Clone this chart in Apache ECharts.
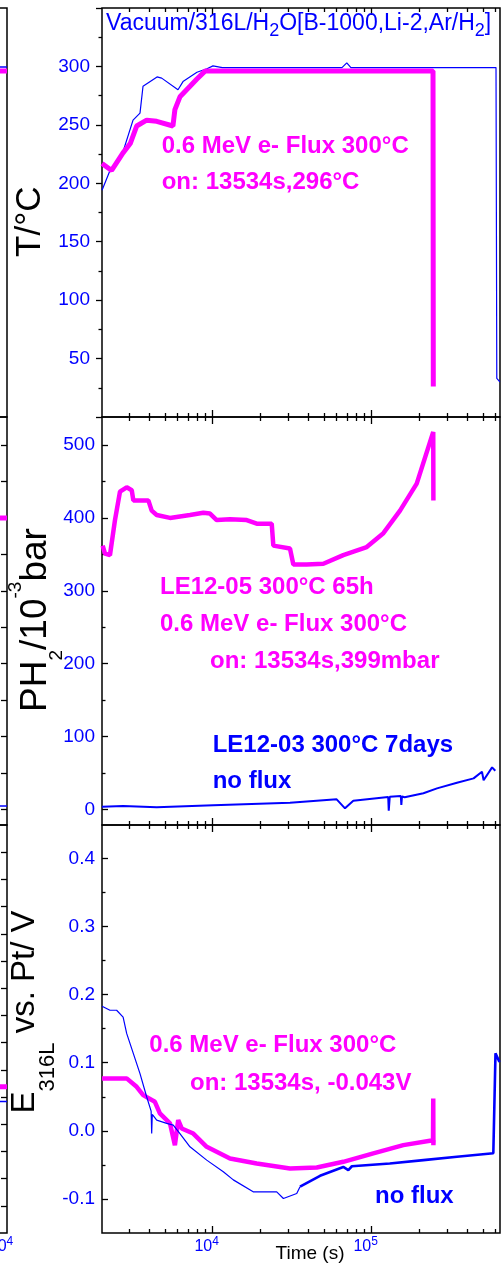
<!DOCTYPE html>
<html><head><meta charset="utf-8">
<script src="https://cdn.jsdelivr.net/npm/echarts@6.0.0/dist/echarts.min.js"></script>
<style>html,body{margin:0;padding:0;background:#fff}#c{width:501px;height:1264px}</style>
</head><body><div id="c"></div>
<script>
// ---------------- data (time in s) ----------------
const tempTimeBlue = [2014,2260,2729,3155,3490,3646,4467,4777,6050,6506,7960,9200,10040,11500,65000,69700,74000,605000,612000,640000];
const tempBlue     = [194,211,227,254,260,283,291,290,280,287,295,298,300.5,299,299,303,299,299,33,30];
const tempTimePink = [2014,2313,2729,3030,3325,3844,4445,5623,5785,6223,7200,7930,8946,243000,244000];
const tempPink     = [217,211,226,234,249,254,253,249,263,274,283,289,296,296,26];

const presTimePink = [2033,2102,2259,2429,2612,2877,3096,3169,3939,4134,4445,5387,7195,8728,9616,10596,12850,16366,18920,23510,24060,30620,32150,39000,49640,66270,93030,118400,150700,191900,243800,244300];
const presPink     = [362,351,349,397,436,442,438,424,424,410,404,400,404,407,406,397,398,397,392,392,362,358,336,336,337,349,360,379,410,447,518,424];
const presTimeBlue = [2014,2733,4445,10087,30620,60210,67940,76600,127000,128000,129900,152500,153600,155000,161200,211500,257400,343700,437300,493700,505600,571600,598700];
const presBlue     = [3.6,4.5,2.7,5.5,9,13.7,1.4,11.8,16.8,-2,17.3,18.2,5.9,17.5,16.5,22,28.8,36.5,42.5,51.6,40,57.6,53];

const potTimePink = [2014,2877,3325,3655,4329,4654,5387,5785,6070,6384,7550,9169,12850,18920,30620,45130,66270,102350,158000,243000,243800,244300,245000];
const potPink     = [0.077,0.077,0.0646,0.0524,0.0426,0.0255,0.011,-0.021,0.0157,0.0035,-0.004,-0.0235,-0.0406,-0.048,-0.0552,-0.0538,-0.0455,-0.033,-0.021,-0.0137,0.0476,-0.021,-0.0137];
const potTimeBlueA = [2014,2259,2488,2733,2877,3490,3843,4100,4134,4168,4445,5138,5649,6223,7195,9169,11660,13480,17970,25270,27840,33770,35420];
const potBlueA     = [0.183,0.177,0.177,0.167,0.143,0.084,0.050,0.029,-0.004,0.024,0.0157,0.011,0.0084,-0.004,-0.0235,-0.043,-0.060,-0.072,-0.0896,-0.0896,-0.0993,-0.092,-0.082];
const potTimeBlueB = [35420,47330,66270,71270,75050,129900,211500,343700,581900,598700,600500,636000];
const potBlueB     = [-0.082,-0.066,-0.053,-0.0577,-0.052,-0.048,-0.043,-0.038,-0.033,-0.033,0.1137,0.101];

// neighbouring (cropped) panel stubs
const stubTime = [5000, 10000];
const stubTop = {pink: 296, blue: 299.5};
const stubMid = {pink: 400, blue: 4.5};
const stubBot = {pink: 5.38, blue: 4.83};

// ---------------- ticks / labels ----------------
const xRange = [2013, 641000];
const xMajorTicks = [10000, 100000];
const xMinorTicks = [3000,4000,5000,6000,7000,8000,9000,20000,30000,40000,50000,60000,70000,80000,90000,200000,300000,400000,500000,600000];
const xTickLabels = [10000, 100000];
const tRange = [0, 350], tMajor = [0,50,100,150,200,250,300,350], tLabels = [50,100,150,200,250,300], tMinor = [25,75,125,175,225,275,325];
const pRange = [-21.5, 538.5], pMajor = [0,100,200,300,400,500], pLabels = [0,100,200,300,400,500], pMinor = [50,150,250,350,450];
const eRange = [-0.15, 0.449], eMajor = [-0.1,0,0.1,0.2,0.3,0.4], eLabels = [-0.1,0,0.1,0.2,0.3,0.4], eMinor = [-0.05,0.05,0.15,0.25,0.35];
const remMidTicks = [0,50,100,150,200,250,300,350,400,450,500];
const remBotTicks = [1,2,3,4,5,6,7,8,9,10,11,12,13,14];

const titleText = 'Vacuum/316L/H{s|2}O[B-1000,Li-2,Ar/H{s|2}]';
const tempNotes = ['0.6 MeV e- Flux 300°C', 'on: 13534s,296°C'];
const presNotesFlux = ['LE12-05 300°C 65h', '0.6 MeV e- Flux 300°C', 'on: 13534s,399mbar'];
const presNotesRef = ['LE12-03 300°C 7days', 'no flux'];
const potNotesFlux = ['0.6 MeV e- Flux 300°C', 'on: 13534s, -0.043V'];
const potNotesRef = ['no flux'];
const xName = 'Time (s)';

// ---------------- build ----------------
const FONT = '"Liberation Sans", Arial, Helvetica, sans-serif';
const BLUE = '#0000FF', MAG = '#FF00FF';
const zip = (a, b) => a.map((t, i) => [t, b[i]]);

const tops = [8, 417, 825], heights = [409, 408, 408];
const grid = [], xAxis = [], yAxis = [], series = [];
const tickLine = {color: '#000', width: 1.3};
const noLine = {show: false, onZero: false};
const xLabel = {
  show: true, customValues: xTickLabels, margin: 3, padding: [0, 12, 0, 0],
  formatter: v => '{b|10}{s|' + Math.round(Math.log10(v)) + '}',
  rich: {b: {fontSize: 16, lineHeight: 21, color: BLUE, fontFamily: FONT},
         s: {fontSize: 12, lineHeight: 12, verticalAlign: 'top', color: BLUE, fontFamily: FONT}}
};
const yDefs = [
  {range: tRange, major: tMajor, labels: tLabels, minor: tMinor, inside: false, margin: 12, fmt: v => String(v)},
  {range: pRange, major: pMajor, labels: pLabels, minor: pMinor, inside: true, margin: 7, fmt: v => String(v)},
  {range: eRange, major: eMajor, labels: eLabels, minor: eMinor, inside: true, margin: 7, fmt: v => v.toFixed(1)}
];
for (let p = 0; p < 3; p++) {
  grid.push({left: 102, width: 398, top: tops[p], height: heights[p], show: true, borderColor: '#000', borderWidth: 1.5, backgroundColor: 'transparent', outerBoundsMode: 'none'});
  grid.push({left: 102, width: 398, top: tops[p], height: heights[p], show: false, outerBoundsMode: 'none'});
  const base = {type: 'log', logBase: 10, min: xRange[0], max: xRange[1], axisLine: noLine, splitLine: {show: false}};
  xAxis.push(Object.assign({}, base, {gridIndex: 2*p, position: 'bottom',
    axisTick: {show: true, inside: true, length: 7, customValues: xMajorTicks, lineStyle: tickLine},
    axisLabel: p === 2 ? xLabel : {show: false}}));
  xAxis.push(Object.assign({}, base, {gridIndex: 2*p, position: 'top',
    axisTick: {show: true, inside: true, length: 7, customValues: xMajorTicks, lineStyle: tickLine}, axisLabel: {show: false}}));
  xAxis.push(Object.assign({}, base, {gridIndex: 2*p+1, position: 'bottom',
    axisTick: {show: true, inside: true, length: 4, customValues: xMinorTicks, lineStyle: tickLine}, axisLabel: {show: false}}));
  xAxis.push(Object.assign({}, base, {gridIndex: 2*p+1, position: 'top',
    axisTick: {show: true, inside: true, length: 4, customValues: xMinorTicks, lineStyle: tickLine}, axisLabel: {show: false}}));
  const d = yDefs[p];
  yAxis.push({type: 'value', gridIndex: 2*p, position: 'left', min: d.range[0], max: d.range[1],
    axisLine: noLine, splitLine: {show: false},
    axisTick: {show: true, inside: d.inside, length: 6, customValues: d.major, lineStyle: tickLine},
    axisLabel: {show: true, customValues: d.labels, color: BLUE, fontSize: 19, fontFamily: FONT, margin: d.margin, formatter: d.fmt}});
  yAxis.push({type: 'value', gridIndex: 2*p+1, position: 'left', min: d.range[0], max: d.range[1],
    axisLine: noLine, splitLine: {show: false},
    axisTick: {show: true, inside: d.inside, length: 3.5, customValues: d.minor, lineStyle: tickLine},
    axisLabel: {show: false}});
}
// remnant panels (cropped neighbour on the left)
const remY = [
  {range: tRange, ticks: []}, {range: pRange, ticks: remMidTicks}, {range: [0, 15], ticks: remBotTicks}
];
const stubs = [stubTop, stubMid, stubBot];
for (let r = 0; r < 3; r++) {
  grid.push({left: -200, width: 207, top: tops[r], height: heights[r], show: true, borderColor: '#000', borderWidth: 1.5, backgroundColor: 'transparent', outerBoundsMode: 'none'});
  xAxis.push({type: 'log', logBase: 10, gridIndex: 6+r, position: 'bottom', min: 100, max: 10000,
    axisLine: noLine, splitLine: {show: false}, axisTick: {show: false},
    axisLabel: r === 2 ? Object.assign({}, xLabel, {customValues: [10000]}) : {show: false}});
  yAxis.push({type: 'value', gridIndex: 6+r, position: 'right', min: remY[r].range[0], max: remY[r].range[1],
    axisLine: noLine, splitLine: {show: false}, axisLabel: {show: false},
    axisTick: {show: remY[r].ticks.length > 0, inside: true, length: 6, customValues: remY[r].ticks, lineStyle: tickLine}});
  series.push({type: 'line', xAxisIndex: 12+r, yAxisIndex: 6+r, symbol: 'none', data: stubTime.map(t => [t, stubs[r].blue]), lineStyle: {color: BLUE, width: 1.5}});
  series.push({type: 'line', xAxisIndex: 12+r, yAxisIndex: 6+r, symbol: 'none', data: stubTime.map(t => [t, stubs[r].pink]), lineStyle: {color: MAG, width: 5}});
}
const line = (p, times, vals, color, width, z) => ({type: 'line', xAxisIndex: 4*p, yAxisIndex: 2*p, symbol: 'none',
  data: zip(times, vals), lineStyle: {color, width}, z: z || 2, animation: false});
series.push(line(0, tempTimeBlue, tempBlue, BLUE, 1.2, 2));
series.push(line(0, tempTimePink, tempPink, MAG, 5, 3));
series.push(line(1, presTimeBlue, presBlue, BLUE, 2, 2));
series.push(line(1, presTimePink, presPink, MAG, 4.5, 3));
series.push(line(2, potTimePink, potPink, MAG, 4.5, 2));
series.push(line(2, potTimeBlueA, potBlueA, BLUE, 1.2, 3));
series.push(line(2, potTimeBlueB, potBlueB, BLUE, 2.6, 3));

const note = (text, x, y, color) => ({type: 'text', x, y, z: 100,
  style: {text, fill: color, fontSize: 24, fontWeight: 'bold', fontFamily: FONT, align: 'left', verticalAlign: 'middle'}});
const graphic = [
  {type: 'text', x: 106, y: 23.3, z: 100, style: {text: titleText, fill: BLUE, fontFamily: FONT, fontSize: 23, align: 'left', verticalAlign: 'middle',
    rich: {s: {fontSize: 18, lineHeight: 18, verticalAlign: 'bottom', fill: BLUE, fontFamily: FONT}}, lineHeight: 34}},
  note(tempNotes[0], 161.7, 146, MAG), note(tempNotes[1], 161.7, 182.5, MAG),
  note(presNotesFlux[0], 160, 587, MAG), note(presNotesFlux[1], 160, 624, MAG), note(presNotesFlux[2], 210, 661, MAG),
  note(presNotesRef[0], 212.7, 745, BLUE), note(presNotesRef[1], 212.7, 781.7, BLUE),
  note(potNotesFlux[0], 149.3, 1045.7, MAG), note(potNotesFlux[1], 190, 1083.3, MAG),
  note(potNotesRef[0], 375, 1196.7, BLUE),
  {type: 'text', x: 310, y: 1254, z: 100, style: {text: xName, fill: '#000', fontSize: 19, fontFamily: FONT, align: 'center', verticalAlign: 'middle'}},
  {type: 'text', x: 30.8, y: 221.7, rotation: Math.PI/2, z: 100, style: {text: 'T/°C', fill: '#000', fontSize: 35, fontFamily: FONT, align: 'center', verticalAlign: 'middle'}},
  {type: 'text', x: 35.8, y: 620, rotation: Math.PI/2, z: 100, style: {text: '{m|PH}{b|2}{m|/10}{t|-3}{m|bar}', fill: '#000', fontFamily: FONT, align: 'center', verticalAlign: 'middle',
    rich: {m: {fontSize: 37, lineHeight: 60, fill: '#000', fontFamily: FONT},
           b: {fontSize: 19, lineHeight: 19, verticalAlign: 'bottom', fill: '#000', fontFamily: FONT},
           t: {fontSize: 19, lineHeight: 28, verticalAlign: 'top', fill: '#000', fontFamily: FONT}}}},
  {type: 'text', x: 25, y: 1012, rotation: Math.PI/2, z: 100, style: {text: '{m|E}{b|316L}{m| vs. Pt/ V}', fill: '#000', fontFamily: FONT, align: 'center', verticalAlign: 'middle',
    rich: {m: {fontSize: 33, lineHeight: 68, fill: '#000', fontFamily: FONT},
           b: {fontSize: 22, lineHeight: 22, verticalAlign: 'bottom', fill: '#000', fontFamily: FONT}}}}
];

const chart = echarts.init(document.getElementById('c'), null, {renderer: 'canvas', width: 501, height: 1264});
chart.setOption({animation: false, backgroundColor: '#fff', grid, xAxis, yAxis, series, graphic});
</script>
</body></html>
